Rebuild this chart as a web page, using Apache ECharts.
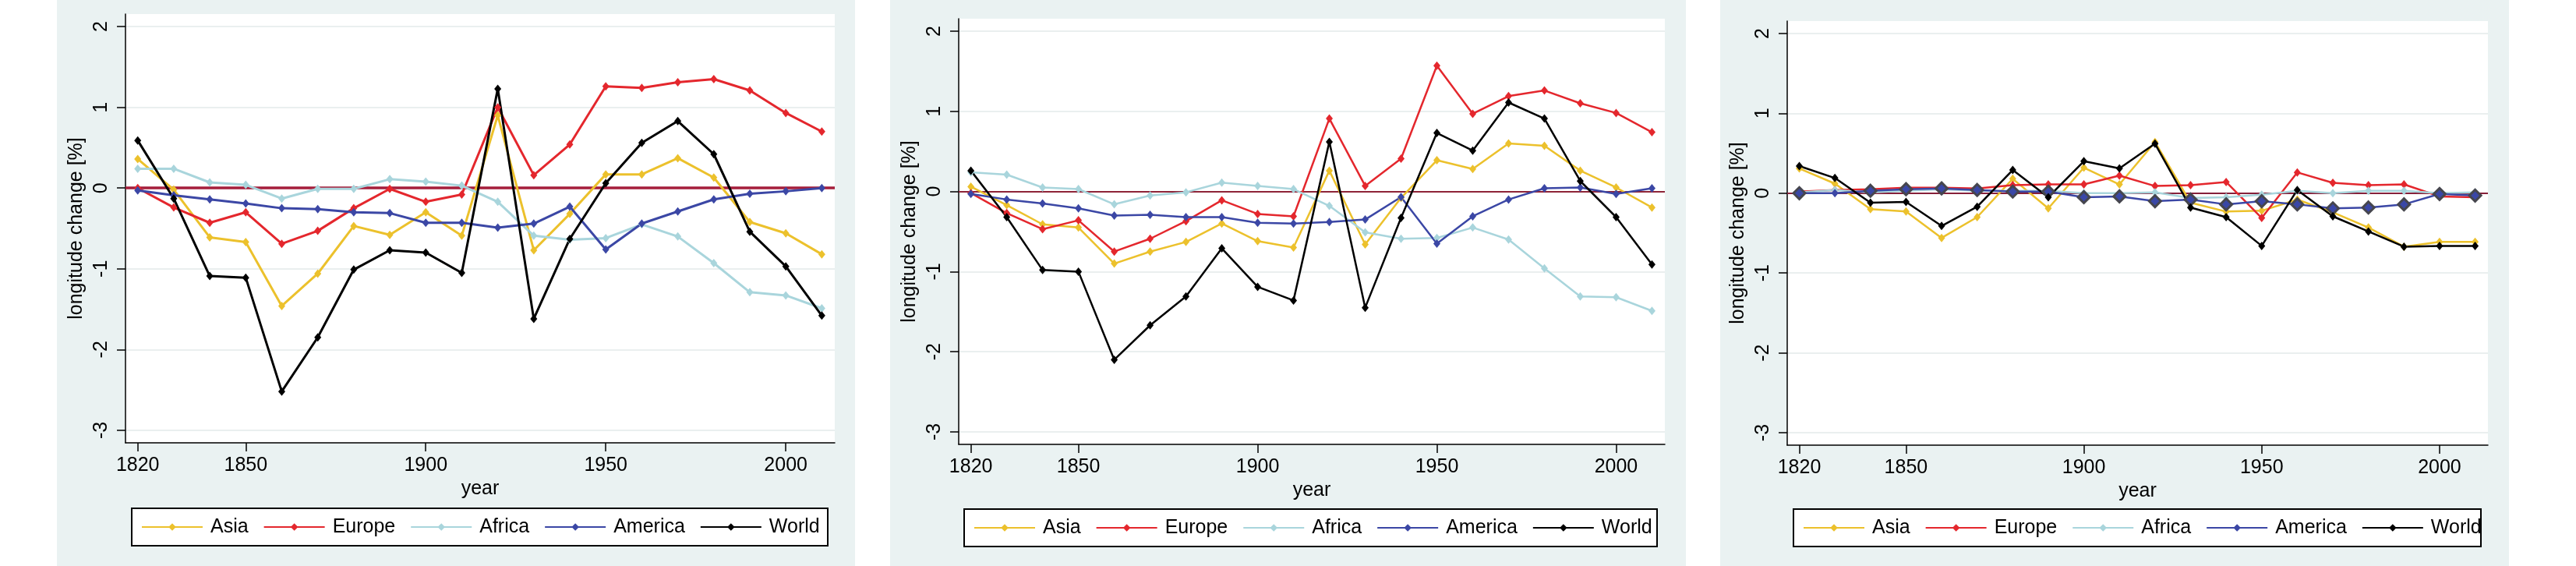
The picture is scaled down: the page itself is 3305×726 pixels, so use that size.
<!DOCTYPE html>
<html>
<head>
<meta charset="utf-8">
<script src="https://cdn.jsdelivr.net/npm/echarts@6.0.0/dist/echarts.min.js"></script>
<style>
  html, body { margin: 0; padding: 0; background: #fff; }
  #chart { width: 3305px; height: 726px; }
</style>
</head>
<body>
<div id="chart"></div>
<script>
// x categories (years) and tick labels
var years = [1820, 1830, 1840, 1850, 1860, 1870, 1880, 1890, 1900, 1910,
  1920, 1930, 1940, 1950, 1960, 1970, 1980, 1990, 2000, 2010]
var xTicks = [1820, 1850, 1900, 1950, 2000]
var yTicks = [-3, -2, -1, 0, 1, 2]
var regions = ['Asia', 'Europe', 'Africa', 'America', 'World']

// panel 1
var asia1 = [0.36, -0.02, -0.61, -0.67, -1.46, -1.06, -0.47, -0.58, -0.30, -0.59, 0.90, -0.77, -0.32, 0.17, 0.17, 0.37, 0.13, -0.42, -0.56, -0.82]
var europe1 = [0.00, -0.24, -0.43, -0.30, -0.69, -0.53, -0.25, -0.01, -0.17, -0.08, 1.00, 0.16, 0.54, 1.26, 1.24, 1.31, 1.35, 1.21, 0.93, 0.70]
var africa1 = [0.24, 0.24, 0.07, 0.04, -0.13, -0.01, -0.01, 0.11, 0.08, 0.03, -0.17, -0.59, -0.64, -0.62, -0.45, -0.60, -0.93, -1.29, -1.33, -1.49]
var america1 = [-0.03, -0.09, -0.14, -0.19, -0.25, -0.26, -0.30, -0.31, -0.43, -0.43, -0.49, -0.44, -0.23, -0.76, -0.44, -0.29, -0.14, -0.07, -0.04, 0.00]
var world1 = [0.59, -0.13, -1.09, -1.11, -2.52, -1.85, -1.01, -0.77, -0.80, -1.05, 1.23, -1.62, -0.63, 0.06, 0.56, 0.83, 0.42, -0.54, -0.97, -1.58]

// panel 2
var asia2 = [0.06, -0.17, -0.41, -0.45, -0.90, -0.75, -0.63, -0.40, -0.62, -0.70, 0.26, -0.66, -0.08, 0.39, 0.28, 0.60, 0.57, 0.26, 0.05, -0.20]
var europe2 = [-0.02, -0.27, -0.47, -0.36, -0.75, -0.59, -0.37, -0.11, -0.28, -0.31, 0.91, 0.07, 0.41, 1.57, 0.97, 1.19, 1.26, 1.10, 0.98, 0.74]
var africa2 = [0.24, 0.21, 0.05, 0.03, -0.16, -0.05, -0.01, 0.11, 0.07, 0.03, -0.18, -0.51, -0.59, -0.58, -0.45, -0.60, -0.96, -1.31, -1.32, -1.49]
var america2 = [-0.03, -0.10, -0.15, -0.21, -0.30, -0.29, -0.32, -0.32, -0.39, -0.40, -0.38, -0.35, -0.07, -0.65, -0.31, -0.10, 0.04, 0.05, -0.03, 0.04]
var world2 = [0.26, -0.32, -0.98, -1.00, -2.10, -1.67, -1.31, -0.71, -1.19, -1.36, 0.62, -1.45, -0.33, 0.73, 0.51, 1.11, 0.91, 0.13, -0.32, -0.91]

// panel 3
var asia3 = [0.31, 0.12, -0.20, -0.23, -0.56, -0.30, 0.18, -0.19, 0.32, 0.11, 0.64, -0.12, -0.23, -0.22, -0.08, -0.24, -0.43, -0.67, -0.61, -0.61]
var europe3 = [0.02, 0.04, 0.05, 0.07, 0.07, 0.06, 0.10, 0.11, 0.11, 0.22, 0.09, 0.10, 0.14, -0.31, 0.26, 0.13, 0.10, 0.11, -0.04, -0.05]
var africa3 = [0.01, 0.04, 0.01, 0.03, 0.05, 0.03, 0.03, 0.03, 0.00, 0.00, 0.01, -0.06, -0.05, -0.02, 0.03, 0.00, 0.03, 0.03, 0.00, 0.01]
var america3 = [0.00, 0.00, 0.03, 0.05, 0.06, 0.04, 0.02, 0.02, -0.05, -0.04, -0.10, -0.08, -0.14, -0.10, -0.14, -0.19, -0.18, -0.14, -0.01, -0.03]
var world3 = [0.34, 0.19, -0.12, -0.11, -0.41, -0.17, 0.29, -0.05, 0.40, 0.31, 0.62, -0.18, -0.30, -0.66, 0.04, -0.29, -0.48, -0.67, -0.66, -0.66]

var panelData = [
  [asia1, europe1, africa1, america1, world1],
  [asia2, europe2, africa2, america2, world2],
  [asia3, europe3, africa3, america3, world3]
]

var colors = ['#ecc12c', '#e4272d', '#a9d5dc', '#3b47a5', '#000000']
var font = 'Liberation Sans, Arial, sans-serif'

// layout of each panel (pixels)
var panels = [
  { bg: [73, 0, 1024, 726], grid: [161, 18, 910, 550], legend: [169, 652, 893, 48], lw: 3, zeroW: 3.5, zeroC: '#a51e3b' },
  { bg: [1142, 0, 1021, 726], grid: [1230, 24, 906, 546], legend: [1237, 653, 889, 48], lw: 2.5, zeroW: 2, zeroC: '#8e2438' },
  { bg: [2207, 0, 1012, 726], grid: [2293, 27, 899, 544], legend: [2301, 653, 882, 48], lw: 2.5, zeroW: 2, zeroC: '#86203a' }
]

var grids = [], xAxes = [], yAxes = [], series = [], legends = [], graphics = []

panels.forEach(function (p, i) {
  graphics.push({
    type: 'rect', z: -10, silent: true,
    shape: { x: p.bg[0], y: p.bg[1], width: p.bg[2], height: p.bg[3] },
    style: { fill: '#eaf2f2' }
  })
  graphics.push({
    type: 'rect', z: -5, silent: true,
    shape: { x: p.legend[0], y: p.legend[1], width: p.legend[2], height: p.legend[3] },
    style: { fill: '#fff', stroke: '#000', lineWidth: 2 }
  })
  grids.push({
    left: p.grid[0], top: p.grid[1], width: p.grid[2], height: p.grid[3],
    show: true, backgroundColor: '#fff', borderWidth: 0
  })
  xAxes.push({
    type: 'value', gridIndex: i, min: 1816.6, max: 2013.6,
    name: 'year', nameLocation: 'middle', nameGap: 42,
    nameTextStyle: { fontSize: 25, color: '#000', fontFamily: font },
    axisLine: { onZero: false, lineStyle: { color: '#000', width: 1.5 } },
    axisTick: { customValues: xTicks, length: 11, lineStyle: { color: '#000', width: 1.5 } },
    axisLabel: {
      customValues: xTicks, fontSize: 25, color: '#000', margin: 17, fontFamily: font,
      formatter: function (v) { return String(v) }
    },
    splitLine: { show: false }
  })
  yAxes.push({
    type: 'value', gridIndex: i, min: -3.156, max: 2.156,
    name: 'longitude change [%]', nameLocation: 'middle', nameGap: 50,
    nameTextStyle: { fontSize: 25, color: '#000', fontFamily: font },
    axisLine: { show: true, lineStyle: { color: '#000', width: 1.5 } },
    axisTick: { show: true, customValues: yTicks, length: 11, lineStyle: { color: '#000', width: 1.5 } },
    axisLabel: { customValues: yTicks, rotate: 90, fontSize: 25, color: '#000', margin: 18, fontFamily: font },
    splitLine: { show: true, lineStyle: { color: '#eaefef', width: 2 } }
  })
  regions.forEach(function (name, k) {
    var vals = panelData[i][k]
    var data = years.map(function (y, j) {
      var item = { value: [y, vals[j]] }
      // third panel: America marked with large outlined diamonds (except 1830)
      if (i === 2 && name === 'America' && y !== 1830) {
        item.symbolSize = 15
        item.itemStyle = { color: '#3a47a6', borderColor: '#46464e', borderWidth: 3 }
      }
      return item
    })
    var s = {
      type: 'line', name: name, xAxisIndex: i, yAxisIndex: i,
      data: data, symbol: 'diamond', symbolSize: [9, 11],
      color: colors[k],
      lineStyle: { width: p.lw, color: colors[k] },
      itemStyle: { color: colors[k] },
      animation: false
    }
    if (k === 0) {
      s.markLine = {
        silent: true, symbol: 'none', z: 1, animation: false,
        label: { show: false },
        lineStyle: { color: p.zeroC, width: p.zeroW, type: 'solid' },
        data: [{ yAxis: 0 }]
      }
    }
    series.push(s)
  })
  legends.push({
    data: regions, left: p.legend[0] + 12, top: p.legend[1] + 11.5,
    orient: 'horizontal', padding: 0,
    itemWidth: 78, itemHeight: 12, itemGap: 19,
    textStyle: { fontSize: 25, color: '#000', fontFamily: font, padding: [0, 0, 0, 5] },
    selectedMode: false
  })
})

var chart = echarts.init(document.getElementById('chart'))
chart.setOption({
  animation: false,
  graphic: graphics,
  grid: grids,
  xAxis: xAxes,
  yAxis: yAxes,
  legend: legends,
  series: series
})
</script>
</body>
</html>
